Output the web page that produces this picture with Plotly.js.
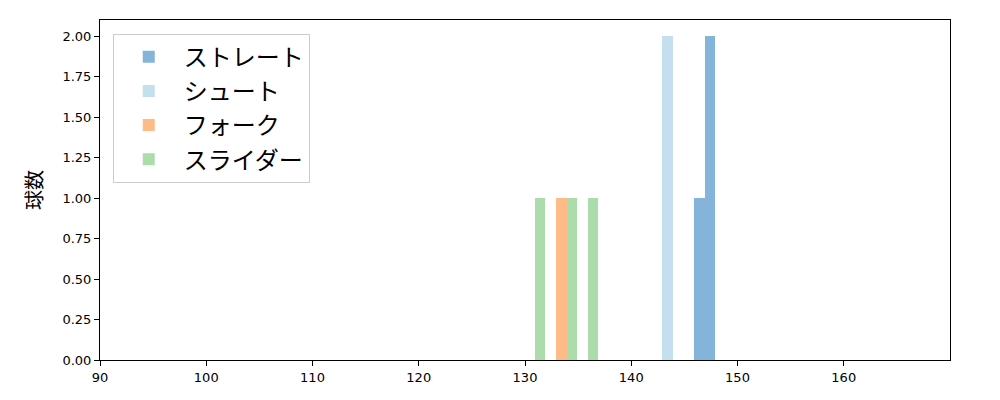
<!DOCTYPE html>
<html>
<head>
<meta charset="utf-8">
<script src="https://cdn.plot.ly/plotly-3.0.1.min.js"></script>
<style>body{margin:0;padding:0;background:#fff}#chart{width:1000px;height:400px}</style>
</head>
<body>
<div id="chart"></div>
<script>
// series names
const seriesNames = ["ストレート", "シュート", "フォーク", "スライダー"];
// bin centers (km/h) and counts
const straightX = [146.44, 147.43];
const straightY = [1, 2];
const shootX = [143.42];
const shootY = [2];
const forkX = [133.47];
const forkY = [1];
const sliderX = [131.45, 134.45, 136.43];
const sliderY = [1, 1, 1];
// axis ticks
const xTicks = [90, 100, 110, 120, 130, 140, 150, 160];
const yTicks = [0, 0.25, 0.5, 0.75, 1.0, 1.25, 1.5, 1.75, 2.0];

const colors = ["#84b4d9", "#c4e0ee", "#fdbb87", "#acdcab"];
const widths = [0.98, 1.03, 1.03, 0.95];
const xs = [straightX, shootX, forkX, sliderX];
const ys = [straightY, shootY, forkY, sliderY];

const traces = seriesNames.map((n, i) => ({
  type: "bar",
  name: n,
  x: xs[i],
  y: ys[i],
  width: widths[i],
  marker: {color: colors[i], line: {width: 0}},
  hoverinfo: "x+y+name"
}));

const font = "DejaVu Sans, 'Noto Sans CJK JP', sans-serif";
const layout = {
  width: 1000, height: 400,
  margin: {l: 100, r: 50, t: 20, b: 40},
  barmode: "overlay",
  bargap: 0,
  paper_bgcolor: "#fff",
  plot_bgcolor: "#fff",
  font: {family: font, size: 13, color: "#000"},
  showlegend: true,
  legend: {
    x: 0.015, y: 0.96, xanchor: "left", yanchor: "top",
    bgcolor: "rgba(255,255,255,0.8)",
    bordercolor: "#cccccc", borderwidth: 1,
    font: {family: "'Noto Sans CJK JP', sans-serif", size: 24, color: "#000"},
    itemwidth: 60
  },
  xaxis: {
    range: [90, 170],
    tickvals: xTicks,
    ticktext: xTicks.map(String),
    ticks: "outside", ticklen: 5, tickwidth: 1, tickcolor: "#000",
    showline: true, linecolor: "#000", linewidth: 1, mirror: true,
    showgrid: false, zeroline: false,
    tickfont: {family: font, size: 13}
  },
  yaxis: {
    range: [0, 2.1],
    tickvals: yTicks,
    ticktext: yTicks.map(v => v.toFixed(2)),
    ticks: "outside", ticklen: 5, tickwidth: 1, tickcolor: "#000",
    showline: true, linecolor: "#000", linewidth: 1, mirror: true,
    showgrid: false, zeroline: false,
    tickfont: {family: font, size: 13},
    title: {text: "球数", font: {family: "'Noto Sans CJK JP', sans-serif", size: 20}, standoff: 14}
  }
};

Plotly.newPlot("chart", traces, layout, {displayModeBar: false, staticPlot: true});
</script>
</body>
</html>
